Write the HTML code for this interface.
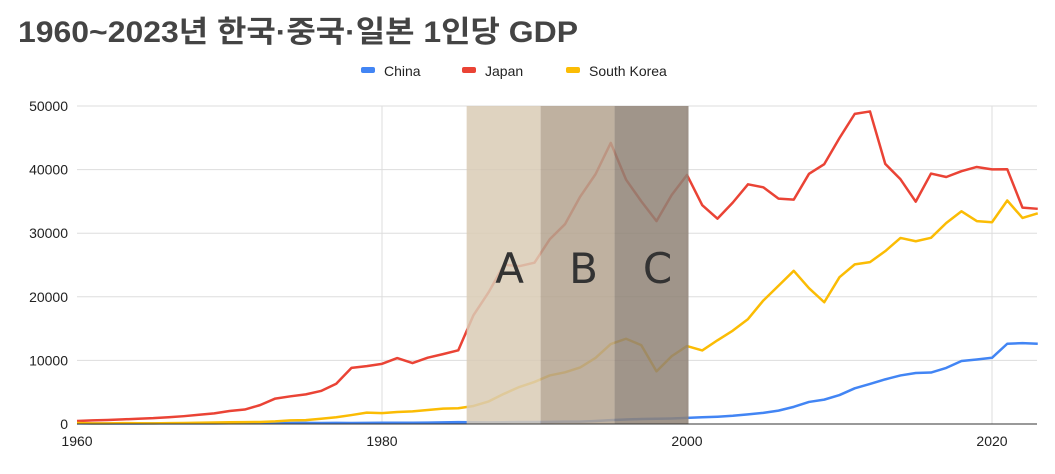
<!DOCTYPE html>
<html><head><meta charset="utf-8">
<style>
body{margin:0;background:#fff;width:1055px;height:469px;overflow:hidden;font-family:"Liberation Sans","Noto Sans CJK KR",sans-serif;}
</style></head>
<body>
<svg width="1055" height="469" xmlns="http://www.w3.org/2000/svg" id="chart">
<text x="18" y="42" font-size="30" font-weight="bold" fill="#444" textLength="560" lengthAdjust="spacingAndGlyphs" font-family="Liberation Sans, Noto Sans CJK KR, sans-serif">1960~2023년 한국·중국·일본 1인당 GDP</text>
<g font-size="14" fill="#222">
<g><rect x="361" y="67" width="14" height="6" rx="2" fill="#4285f4"/><text x="384" y="76">China</text></g>
<g><rect x="462" y="67" width="14" height="6" rx="2" fill="#ea4335"/><text x="485" y="76">Japan</text></g>
<g><rect x="566" y="67" width="14" height="6" rx="2" fill="#fbbc04"/><text x="589" y="76">South Korea</text></g>
</g>
<g id="grid"></g><g id="lines"></g><g id="bands"></g><g id="axes"></g>
</svg>
<script>
const years=[];for(let y=1960;y<=2023;y++)years.push(y);
const japan=[479,564,633,718,835,919,1058,1228,1451,1669,2037,2272,2967,3997,4353,4659,5197,6335,8821,9105,9463,10361,9578,10425,10984,11584,17111,20745,25051,24813,25359,29047,31415,35765,39269,44198,38437,35022,31903,36027,39169,34406,32289,34808,37688,37218,35434,35275,39339,40855,44968,48760,49145,40898,38475,34961,39375,38834,39751,40416,40040,40059,34017,33834];
const korea=[158,94,106,146,124,108,133,161,198,243,279,301,324,406,563,617,834,1055,1405,1784,1715,1883,1992,2199,2413,2482,2835,3555,4749,5817,6610,7637,8127,8885,10385,12565,13403,12399,8282,10672,12257,11561,13165,14673,16496,19403,21744,24086,21350,19144,23087,25096,25459,27180,29253,28737,29274,31601,33447,31902,31721,35142,32395,33121];
const china=[90,76,70,74,85,98,104,97,91,100,113,119,132,157,160,178,165,185,156,183,195,197,203,225,251,294,282,252,283,311,318,333,366,377,473,610,709,782,829,873,959,1053,1149,1289,1509,1753,2099,2694,3468,3832,4550,5614,6301,7020,7636,8016,8094,8817,9905,10144,10409,12618,12720,12614];
const yTicks=[0,10000,20000,30000,40000,50000];
const xTicks=[1960,1980,2000,2020];
const bandLabels=["A","B","C"];
const bandStarts=[1985.55,1990.4,1995.25];
const bandEnds=[1990.4,1995.25,2000.1];
const bandColors=["#d9cbb5","#b4a38f","#8f8276"];
const X=y=>77+(y-1960)*(305/20);
const Y=v=>424-v*(318/50000);
const NS="http://www.w3.org/2000/svg";
function mk(tag,attrs,parent){const e=document.createElementNS(NS,tag);for(const k in attrs)e.setAttribute(k,attrs[k]);parent.appendChild(e);return e;}
const grid=document.getElementById('grid'),lines=document.getElementById('lines'),bands=document.getElementById('bands'),axes=document.getElementById('axes');
yTicks.forEach(v=>{
 const l=mk('line',{x1:77,x2:1037,y1:Y(v),y2:Y(v),stroke:v===0?'#333':'#ddd','stroke-width':1},v===0?axes:grid);
 
 
 const t=mk('text',{x:68,y:Y(v)+5,'text-anchor':'end','font-size':14,fill:'#222'},axes);
 t.textContent=v;
 
 
});
xTicks.forEach(yr=>{
 if(yr>1960){const l=mk('line',{x1:X(yr),x2:X(yr),y1:Y(50000),y2:Y(0),stroke:'#ddd'},grid);
 
 }
 const t=mk('text',{x:X(yr),y:446,'text-anchor':'middle','font-size':14,fill:'#222'},axes);
 t.textContent=yr;
 
 
});
function series(arr,color,name){
 const p=mk('polyline',{points:arr.map((v,i)=>X(years[i])+','+Y(v)).join(' '),fill:'none',stroke:color,'stroke-width':2.5,'stroke-linejoin':'round'},lines);
 
 
}
series(china,'#4285f4','line-china');
series(japan,'#ea4335','line-japan');
series(korea,'#fbbc04','line-south-korea');
bandLabels.forEach((lab,i)=>{
 const r=mk('rect',{x:X(bandStarts[i]),y:Y(50000),width:X(bandEnds[i])-X(bandStarts[i]),height:Y(0)-Y(50000),fill:bandColors[i],opacity:0.85},bands);
 
 
 const t=mk('text',{x:(X(bandStarts[i])+X(bandEnds[i]))/2+6,y:283,'text-anchor':'middle','font-size':42,fill:'#333','font-family':'DejaVu Sans, sans-serif'},bands);
 t.textContent=lab;
 
 
});
</script>
</body></html>
